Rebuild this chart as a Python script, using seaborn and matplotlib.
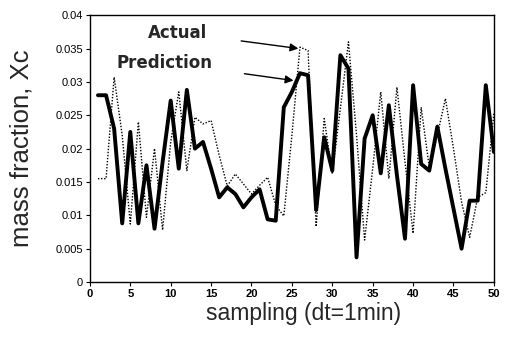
import pandas as pd
import matplotlib
matplotlib.use("Agg")
import matplotlib.pyplot as plt
import seaborn as sns

# sampling index (dt = 1 min)
sampling = list(range(1, 51))

# mass fraction Xc
prediction = [0.028, 0.028, 0.023, 0.0088, 0.0225, 0.0088, 0.0175, 0.008, 0.018, 0.0272,
              0.017, 0.0288, 0.020, 0.021, 0.017, 0.0127, 0.0142, 0.0132, 0.0112, 0.0127,
              0.0139, 0.0094, 0.0092, 0.0262, 0.0285, 0.0313, 0.031, 0.0108, 0.0217, 0.0167,
              0.034, 0.032, 0.0037, 0.0215, 0.025, 0.0163, 0.0265, 0.016, 0.0065, 0.0295,
              0.0177, 0.0167, 0.0233, 0.017, 0.011, 0.005, 0.0122, 0.0122, 0.0295, 0.0195]

actual = [0.0155, 0.0155, 0.0307, 0.022, 0.0087, 0.024, 0.0097, 0.020, 0.0078, 0.021,
          0.0285, 0.0167, 0.0247, 0.0237, 0.0242, 0.019, 0.0144, 0.0162, 0.0147, 0.0132,
          0.0145, 0.0157, 0.0115, 0.0099, 0.022, 0.0352, 0.0347, 0.0083, 0.0245, 0.0162,
          0.026, 0.036, 0.022, 0.0063, 0.017, 0.0285, 0.0155, 0.0292, 0.018, 0.0073,
          0.0262, 0.0172, 0.022, 0.0275, 0.020, 0.012, 0.0067, 0.0127, 0.0134, 0.0253]

x_ticks = list(range(0, 51, 5))
y_ticks = [0, 0.005, 0.01, 0.015, 0.02, 0.025, 0.03, 0.035, 0.04]
y_tick_labels = ["0", "0.005", "0.01", "0.015", "0.02", "0.025", "0.03", "0.035", "0.04"]

df = pd.DataFrame({"sampling": sampling, "Actual": actual, "Prediction": prediction})

sns.set_style("ticks")
plt.rcParams["font.family"] = ["Liberation Sans", "DejaVu Sans"]

fig = plt.figure(figsize=(5.05, 3.37), dpi=100)
ax = fig.add_axes([0.178, 0.163, 0.8, 0.792])

sns.lineplot(data=df, x="sampling", y="Prediction", color="black", linewidth=2.8, ax=ax)
sns.lineplot(data=df, x="sampling", y="Actual", color="black", linewidth=1.0,
             linestyle=(0, (1, 1.2)), ax=ax)

ax.set_xlim(0, 50)
ax.set_ylim(0, 0.04)
ax.set_xticks(x_ticks)
ax.set_xticklabels([str(t) for t in x_ticks], fontsize=8, fontweight="bold")
ax.set_yticks(y_ticks)
ax.set_yticklabels(y_tick_labels, fontsize=8)
ax.tick_params(direction="out", length=3, width=0.8, pad=2, colors="black")
for s in ax.spines.values():
    s.set_visible(True)
    s.set_color("black")
    s.set_linewidth(1.0)

ax.set_xlabel("sampling (dt=1min)", fontsize=16.5, labelpad=3)
ax.xaxis.set_label_coords(0.53, -0.075, transform=ax.transAxes)
ax.xaxis.label.set_va("top")
ax.set_ylabel("mass fraction, Xc", fontsize=18.5, labelpad=16)

arrow = dict(arrowstyle="-|>", color="black", lw=1.0, mutation_scale=12)
note_font = dict(fontsize=12, fontweight="bold", family=["DejaVu Sans"])
ax.annotate("Actual", xy=(25.8, 0.035), xytext=(10.9, 0.0374), ha="center", va="center",
            arrowprops=dict(arrow, shrinkA=22, shrinkB=0), **note_font)
ax.annotate("Prediction", xy=(25.2, 0.0302), xytext=(9.2, 0.0329), ha="center", va="center",
            arrowprops=dict(arrow, shrinkA=21, shrinkB=0), **note_font)

fig.savefig("out.png", dpi=100)
